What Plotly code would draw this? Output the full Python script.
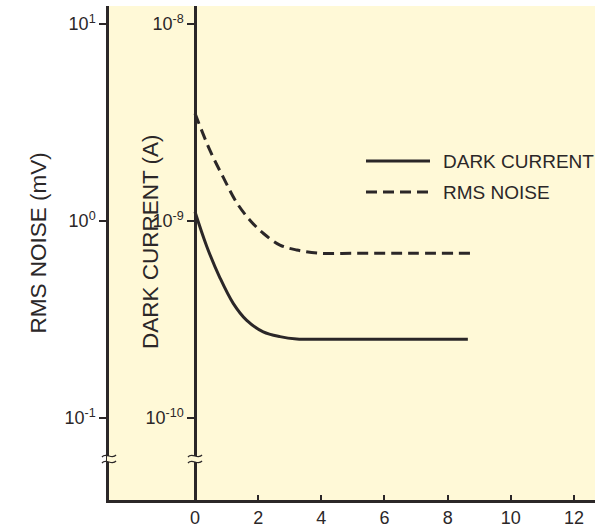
import plotly.graph_objects as go

# ---------------- data ----------------
dark_x = [0, 0.37, 0.79, 1.21, 1.63, 2.16, 2.69, 3.22, 4.0, 5.0, 6.0, 7.0, 8.64]
dark_current_A = [1.114e-9, 7.45e-10, 5.15e-10, 3.82e-10, 3.14e-10, 2.74e-10,
                  2.59e-10, 2.52e-10, 2.51e-10, 2.51e-10, 2.51e-10, 2.51e-10, 2.51e-10]

rms_x = [0, 0.47, 0.9, 1.32, 1.74, 2.16, 2.69, 3.22, 3.96, 5.0, 6.0, 7.0, 8.8]
rms_noise_mV = [3.52, 2.29, 1.66, 1.24, 1.01, 0.867, 0.755, 0.713, 0.686,
                0.686, 0.686, 0.686, 0.686]

x_ticks = [0, 2, 4, 6, 8, 10, 12]
rms_tickvals = [0.1, 1, 10]
rms_ticktext = ["10<sup>-1</sup>", "10<sup>0</sup>", "10<sup>1</sup>"]
dark_tickvals = [1e-10, 1e-9, 1e-8]
dark_ticktext = ["10<sup>-10</sup>", "10<sup>-9</sup>", "10<sup>-8</sup>"]

series_names = ["DARK CURRENT", "RMS NOISE"]
y_titles = ["RMS NOISE (mV)", "DARK CURRENT (A)"]

# ---------------- style ----------------
W, H = 595, 529
ML, MR, MT, MB = 109, 0, 6, 29
PW, PH = W - ML - MR, H - MT - MB
INK = "#2b2728"
BG = "#FFF9D7"
FONT = "Liberation Sans, Arial, Helvetica, sans-serif"
x_range = [-2.723, 12.666]
y0_pos = (0 - x_range[0]) / (x_range[1] - x_range[0])


def px(xp):
    return (xp - ML) / PW


def py(yp):
    return (MT + PH - yp) / PH


fig = go.Figure()
fig.add_trace(go.Scatter(x=dark_x, y=dark_current_A, mode="lines", name=series_names[0],
                         line=dict(color=INK, width=3, shape="spline", smoothing=1.0),
                         yaxis="y2", showlegend=False))
fig.add_trace(go.Scatter(x=rms_x, y=rms_noise_mV, mode="lines", name=series_names[1],
                         line=dict(color=INK, width=3, dash="11px,6px", shape="spline", smoothing=1.0),
                         yaxis="y", showlegend=False))

axis_common = dict(showgrid=False, zeroline=False, showline=True, linecolor=INK, linewidth=2.5,
                   tickfont=dict(family=FONT, size=18, color=INK), tickcolor=INK)

fig.update_layout(
    width=W, height=H,
    margin=dict(l=ML, r=MR, t=MT, b=MB, pad=0),
    paper_bgcolor="white", plot_bgcolor=BG,
    font=dict(family=FONT, color=INK, size=18),
    xaxis=dict(range=x_range, tickvals=x_ticks, ticks="inside", ticklen=5, tickwidth=1.5,
               **axis_common),
    yaxis=dict(type="log", range=[-1.416, 1.0914], tickvals=rms_tickvals, ticktext=rms_ticktext,
               ticks="outside", ticklen=7, tickwidth=1.5, **axis_common),
    yaxis2=dict(type="log", range=[-10.416, -7.9086], tickvals=dark_tickvals, ticktext=dark_ticktext,
                overlaying="y", anchor="free", position=y0_pos, side="left",
                ticks="outside", ticklen=7, tickwidth=1.5, **axis_common),
    showlegend=False,
)

annotations = []
shapes = []

# axis titles
annotations.append(dict(text=y_titles[0], x=px(23), y=py(243), xref="paper", yref="paper",
                        textangle=-90, showarrow=False, font=dict(size=22.5, color=INK)))
annotations.append(dict(text=y_titles[1], x=px(136.5), y=py(242), xref="paper", yref="paper",
                        textangle=-90, showarrow=False, font=dict(size=22.5, color=INK)))

# legend (manual)
leg_y = [161, 192]
leg_dash = ["solid", "11px,6px"]
for name, yy, dsh in zip(series_names, leg_y, leg_dash):
    shapes.append(dict(type="line", xref="paper", yref="paper", x0=px(366), x1=px(430),
                       y0=py(yy), y1=py(yy), line=dict(color=INK, width=3, dash=dsh)))
    annotations.append(dict(text=name, x=px(441), y=py(yy), xref="paper", yref="paper",
                            xanchor="left", yanchor="middle", showarrow=False,
                            font=dict(size=19, color=INK)))

# axis break marks
for ax in [109, 195]:
    yb = 459
    shapes.append(dict(type="rect", xref="paper", yref="paper", x0=px(ax - 2), x1=px(ax + 2),
                       y0=py(yb + 3), y1=py(yb - 3), fillcolor=BG, line=dict(width=0), layer="above"))
    for dy in (-3, 3):
        y = yb + dy
        path = (f"M {px(ax-7)},{py(y+1)} C {px(ax-3)},{py(y-4)} {px(ax+3)},{py(y+4)} {px(ax+7)},{py(y-1)}")
        shapes.append(dict(type="path", xref="paper", yref="paper", path=path,
                           line=dict(color=INK, width=1.3), layer="above"))

fig.update_layout(annotations=annotations, shapes=shapes)
fig.write_html("out.html", config={"displayModeBar": False},
               post_script="document.body.style.margin='0';document.body.style.overflow='hidden';")
